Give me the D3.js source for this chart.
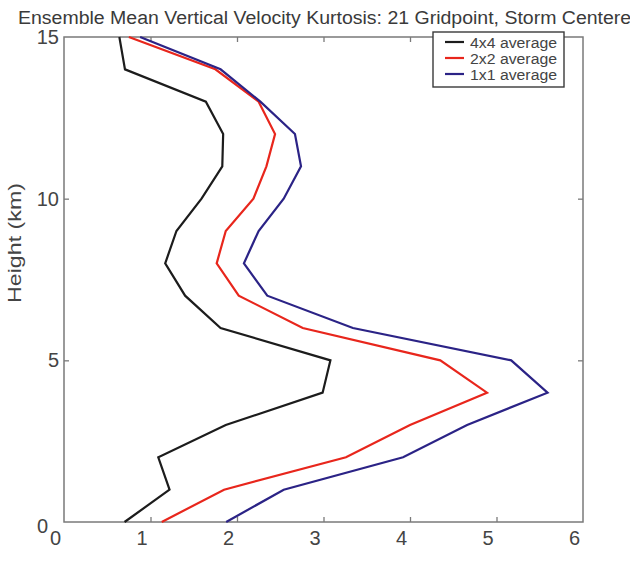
<!DOCTYPE html>
<html>
<head>
<meta charset="utf-8">
<script src="https://cdn.jsdelivr.net/npm/d3@7"></script>
<style>
  body { margin: 0; background: #fff; }
  svg { display: block; }
  text { font-family: "Liberation Sans", Arial, Helvetica, sans-serif; }
</style>
</head>
<body>
<svg id="chart" width="630" height="564"></svg>
<script>
// Vertical profiles of ensemble-mean vertical velocity kurtosis (km levels)
const heights = [0, 1, 2, 3, 4, 5, 6, 7, 8, 9, 10, 11, 12, 13, 14, 15];
const avg4x4 = [0.70, 1.22, 1.09, 1.87, 2.99, 3.08, 1.81, 1.40, 1.17, 1.30, 1.59, 1.83, 1.84, 1.64, 0.705, 0.64];
const avg2x2 = [1.13, 1.85, 3.26, 4.00, 4.89, 4.35, 2.76, 2.02, 1.765, 1.87, 2.19, 2.34, 2.44, 2.25, 1.75, 0.75];
const avg1x1 = [1.875, 2.54, 3.92, 4.66, 5.59, 5.17, 3.34, 2.35, 2.08, 2.25, 2.54, 2.74, 2.67, 2.27, 1.81, 0.88];

const seriesNames = ["4x4 average", "2x2 average", "1x1 average"];
const seriesColors = ["#1c1c1c", "#e8261c", "#2b2386"];
const xTicks = [0, 1, 2, 3, 4, 5, 6];
const yTicks = [0, 5, 10, 15];

const titleText = "Ensemble Mean Vertical Velocity Kurtosis: 21 Gridpoint, Storm Centered";
const yLabelText = "Height (km)";

const svg = d3.select("#chart");
const plot = { left: 64, right: 583, top: 37, bottom: 522 };

const x = d3.scaleLinear().domain([0, 6]).range([plot.left, plot.right]);
const y = d3.scaleLinear().domain([0, 15]).range([plot.bottom, plot.top]);

const axisColor = "#7a7a7a";
const textColor = "#444";

// Title
svg.append("text")
  .attr("x", 18).attr("y", 24)
  .attr("font-size", 18)
  .attr("fill", "#3a3a3a")
  .attr("textLength", 624)
  .attr("lengthAdjust", "spacingAndGlyphs")
  .text(titleText);

// Y-axis title
svg.append("text")
  .attr("transform", `translate(21,243) rotate(-90)`)
  .attr("text-anchor", "middle")
  .attr("font-size", 19)
  .attr("fill", textColor)
  .attr("textLength", 120)
  .attr("lengthAdjust", "spacingAndGlyphs")
  .text(yLabelText);

// Axes with inward ticks
function styleAxis(g) {
  g.select(".domain").remove();
  g.selectAll(".tick line").attr("stroke", axisColor).attr("stroke-width", 1.3);
  g.selectAll(".tick text").attr("fill", textColor).attr("font-size", 20)
    .attr("font-family", "\"Liberation Sans\", Arial, sans-serif");
}

const xAxis = svg.append("g")
  .attr("transform", `translate(0,${plot.bottom})`)
  .call(d3.axisBottom(x).tickValues(xTicks).tickFormat(d3.format("d")).tickSize(-5).tickPadding(9))
  .call(styleAxis);
xAxis.selectAll(".tick text").attr("dx", -9);
xAxis.selectAll(".tick").filter(d => d === 0 || d === 6).select("line").remove();

svg.append("g")
  .attr("transform", `translate(0,${plot.top})`)
  .call(d3.axisTop(x).tickValues(xTicks.filter(d => d > 0 && d < 6)).tickFormat("").tickSize(-5))
  .call(styleAxis);

const yAxis = svg.append("g")
  .attr("transform", `translate(${plot.left},0)`)
  .call(d3.axisLeft(y).tickValues(yTicks).tickFormat(d3.format("d")).tickSize(-5).tickPadding(5))
  .call(styleAxis);
yAxis.selectAll(".tick").filter(d => d === 0 || d === 15).select("line").remove();
yAxis.selectAll(".tick").filter(d => d === 0).select("text").attr("dx", -11).attr("dy", "0.52em");

svg.append("g")
  .attr("transform", `translate(${plot.right},0)`)
  .call(d3.axisRight(y).tickValues(yTicks.filter(d => d > 0 && d < 15)).tickFormat("").tickSize(-5))
  .call(styleAxis);

// Plot frame
svg.append("rect")
  .attr("x", plot.left).attr("y", plot.top)
  .attr("width", plot.right - plot.left).attr("height", plot.bottom - plot.top)
  .attr("fill", "none").attr("stroke", axisColor).attr("stroke-width", 1.5);

// Profiles
const series = [avg4x4, avg2x2, avg1x1];
const line = d3.line().x(d => x(d[0])).y(d => y(d[1]));

svg.append("g")
  .selectAll("path")
  .data(series)
  .join("path")
  .attr("d", vals => line(vals.map((v, i) => [v, heights[i]])))
  .attr("fill", "none")
  .attr("stroke", (d, i) => seriesColors[i])
  .attr("stroke-width", 2.2)
  .attr("stroke-linejoin", "miter");

// Legend
const legend = svg.append("g");
legend.append("rect")
  .attr("x", 433).attr("y", 32)
  .attr("width", 131).attr("height", 55)
  .attr("fill", "#fff").attr("stroke", "#3a3a3a").attr("stroke-width", 1.4);

const rows = legend.selectAll("g.row")
  .data(seriesNames)
  .join("g")
  .attr("class", "row")
  .attr("transform", (d, i) => `translate(0,${42 + i * 16})`);

rows.append("line")
  .attr("x1", 445).attr("x2", 464)
  .attr("stroke", (d, i) => seriesColors[i])
  .attr("stroke-width", 2.2);

rows.append("text")
  .attr("x", 470).attr("dy", "0.36em")
  .attr("font-size", 15.5)
  .attr("fill", textColor)
  .attr("textLength", 87)
  .attr("lengthAdjust", "spacingAndGlyphs")
  .text(d => d);
</script>
</body>
</html>
